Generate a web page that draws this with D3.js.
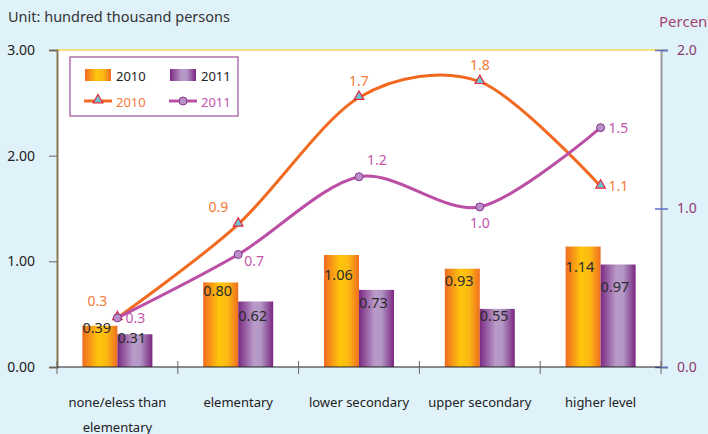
<!DOCTYPE html>
<html>
<head>
<meta charset="utf-8">
<script src="https://cdn.jsdelivr.net/npm/d3@7"></script>
<style>
  body { margin: 0; background: #dff1f9; }
  svg { display: block; font-family: "Noto Sans", sans-serif; }
</style>
</head>
<body>
<svg width="708" height="434"></svg>
<script>
const categories = ["none/eless than\nelementary", "elementary", "lower secondary", "upper secondary", "higher level"];
const bars2010 = [0.39, 0.80, 1.06, 0.93, 1.14];
const bars2011 = [0.31, 0.62, 0.73, 0.55, 0.97];
const pct2010 = [0.31, 0.90, 1.70, 1.80, 1.14];
const pct2011 = [0.31, 0.71, 1.20, 1.01, 1.51];
const leftTicks = [0, 1, 2, 3];
const rightTicks = [0, 1, 2];
// where each line label sits relative to its point
const pos2010 = ["aboveLeft", "aboveLeft", "above", "above", "right"];
const pos2011 = ["right", "belowRight", "aboveRight", "below", "right"];
// baseline drop of the bar value labels below the bar top
const drop2010 = [7, 14, 25, 17, 25];
const drop2011 = [9, 20, 18, 12, 27];

const margin = {top: 50, right: 47, bottom: 67, left: 57},
    width = 708 - margin.left - margin.right,
    height = 434 - margin.top - margin.bottom;

const svg = d3.select("svg");
const defs = svg.append("defs");

function hGrad(id, stops) {
    const g = defs.append("linearGradient").attr("id", id)
        .attr("x1", "0%").attr("x2", "100%").attr("y1", "0%").attr("y2", "0%");
    stops.forEach(s => g.append("stop").attr("offset", s[0]).attr("stop-color", s[1]));
}
hGrad("gOrange", [["0%", "#f06a22"], ["45%", "#ffc60b"], ["70%", "#fbb813"], ["100%", "#f06e20"]]);
hGrad("gPurple", [["0%", "#7b2a82"], ["45%", "#b99bc9"], ["65%", "#b196c4"], ["100%", "#7a2680"]]);

const chart = svg.append("g").attr("transform", `translate(${margin.left},${margin.top})`);

chart.append("rect").attr("width", width).attr("height", height).attr("fill", "#fff");
chart.append("line").attr("x1", 0).attr("x2", width).attr("y1", 0).attr("y2", 0)
    .attr("stroke", "#f6e17a").attr("stroke-width", 2);

const x = d3.scaleBand().domain(d3.range(categories.length)).range([0, width]);
const y = d3.scaleLinear().domain([0, 3]).range([height, 0]);
const y2 = d3.scaleLinear().domain([0, 2]).range([height, 0]);

// left axis
const leftAxis = chart.append("g")
    .call(d3.axisLeft(y).tickValues(leftTicks).tickFormat(d3.format(".2f")).tickSize(8));
leftAxis.select(".domain").attr("stroke", "#8a7a52").attr("stroke-width", 2);
leftAxis.selectAll(".tick line").attr("stroke", "#666");
leftAxis.selectAll(".tick text").attr("x", -22).attr("font-size", 14).attr("fill", "#222")
    .attr("font-family", "Noto Sans");

// right axis
const rightAxis = chart.append("g").attr("transform", `translate(${width},0)`)
    .call(d3.axisRight(y2).tickValues(rightTicks).tickFormat(d3.format(".1f")).tickSize(7));
rightAxis.select(".domain").attr("stroke", "#999").attr("stroke-width", 2);
rightAxis.selectAll(".tick line").attr("stroke", "#5b72c4").attr("x1", -6).attr("stroke-width", 1.5);
rightAxis.selectAll(".tick text").attr("x", 16).attr("font-size", 14).attr("fill", "#8e3a6e")
    .attr("font-family", "Noto Sans");

// bars
const bw = 35;
const groups = chart.selectAll(".cat").data(categories).enter().append("g")
    .attr("transform", (d, i) => `translate(${x(i) + x.bandwidth() / 2},0)`);

groups.append("rect").attr("x", -bw).attr("width", bw)
    .attr("y", (d, i) => y(bars2010[i])).attr("height", (d, i) => height - y(bars2010[i]))
    .attr("fill", "url(#gOrange)");
groups.append("rect").attr("x", 0).attr("width", bw)
    .attr("y", (d, i) => y(bars2011[i])).attr("height", (d, i) => height - y(bars2011[i]))
    .attr("fill", "url(#gPurple)");
groups.append("text").attr("x", -bw).attr("y", (d, i) => y(bars2010[i]) + drop2010[i])
    .attr("font-size", 14.5).attr("fill", "#2a2a2a").text((d, i) => bars2010[i].toFixed(2));
groups.append("text").attr("x", 0).attr("y", (d, i) => y(bars2011[i]) + drop2011[i])
    .attr("font-size", 14.5).attr("fill", "#2a2a2a").text((d, i) => bars2011[i].toFixed(2));

// bottom axis
const bottom = chart.append("g").attr("transform", `translate(0,${height})`);
bottom.append("line").attr("x1", 0).attr("x2", width).attr("stroke", "#222").attr("stroke-width", 1.2);
bottom.selectAll(".sep").data(d3.range(categories.length + 1)).enter().append("line")
    .attr("x1", i => i * x.step()).attr("x2", i => i * x.step())
    .attr("y1", -6).attr("y2", 7).attr("stroke", "#666");
bottom.selectAll(".lbl").data(categories).enter().append("text")
    .attr("text-anchor", "middle").attr("font-size", 13).attr("fill", "#222")
    .attr("transform", (d, i) => `translate(${x(i) + x.bandwidth() / 2},40)`)
    .each(function(d) {
        d.split("\n").forEach((t, k) => {
            d3.select(this).append("tspan").attr("x", 0).attr("dy", k ? 25 : 0).text(t);
        });
    });

// lines
const line2 = d3.line()
    .x((d, i) => x(i) + x.bandwidth() / 2)
    .y(d => y2(d))
    .curve(d3.curveCardinal.tension(0.1));

chart.append("path").datum(pct2010).attr("d", line2)
    .attr("fill", "none").attr("stroke", "#f26a21").attr("stroke-width", 3);
chart.append("path").datum(pct2011).attr("d", line2)
    .attr("fill", "none").attr("stroke", "#bb4fa6").attr("stroke-width", 3);

const tri = d3.symbol().type(d3.symbolTriangle).size(40);
chart.selectAll(".m10").data(pct2010).enter().append("path")
    .attr("d", tri)
    .attr("transform", (d, i) => `translate(${x(i) + x.bandwidth() / 2},${y2(d) - 1})`)
    .attr("fill", "#6cc3d3").attr("stroke", "#e8283c").attr("stroke-width", 1.2);
chart.selectAll(".m11").data(pct2011).enter().append("circle")
    .attr("cx", (d, i) => x(i) + x.bandwidth() / 2).attr("cy", d => y2(d)).attr("r", 4)
    .attr("fill", "#b98fc6").attr("stroke", "#84348a").attr("stroke-width", 1);

const offs = {
    above: [0, -12, "middle"], aboveLeft: [-10, -12, "end"], aboveRight: [8, -12, "start"],
    below: [0, 21, "middle"], belowRight: [6, 12, "start"], right: [8, 5, "start"]
};
function labels(data, pos, color) {
    chart.selectAll(null).data(data).enter().append("text")
        .attr("x", (d, i) => x(i) + x.bandwidth() / 2 + offs[pos[i]][0])
        .attr("y", (d, i) => y2(d) + offs[pos[i]][1])
        .attr("text-anchor", (d, i) => offs[pos[i]][2])
        .attr("font-size", 14).attr("fill", color)
        .text(d => d.toFixed(1));
}
labels(pct2010, pos2010, "#f47a38");
labels(pct2011, pos2011, "#c455aa");

// legend
const lg = svg.append("g").attr("transform", "translate(70,57)");
lg.append("rect").attr("width", 168).attr("height", 59).attr("fill", "#fff")
    .attr("stroke", "#9c4d9e").attr("stroke-width", 1.2);
lg.append("rect").attr("x", 15).attr("y", 12).attr("width", 26).attr("height", 12).attr("fill", "url(#gOrange)");
lg.append("text").attr("x", 46).attr("y", 24).attr("font-size", 13).attr("fill", "#222").text("2010");
lg.append("rect").attr("x", 100).attr("y", 12).attr("width", 26).attr("height", 12).attr("fill", "url(#gPurple)");
lg.append("text").attr("x", 131).attr("y", 24).attr("font-size", 13).attr("fill", "#222").text("2011");
lg.append("line").attr("x1", 14).attr("x2", 42).attr("y1", 44).attr("y2", 44).attr("stroke", "#f26a21").attr("stroke-width", 3);
lg.append("path").attr("d", tri).attr("transform", "translate(28,43)")
    .attr("fill", "#6cc3d3").attr("stroke", "#e8283c").attr("stroke-width", 1.2);
lg.append("text").attr("x", 46).attr("y", 50).attr("font-size", 13).attr("fill", "#f47a38").text("2010");
lg.append("line").attr("x1", 99).attr("x2", 127).attr("y1", 44).attr("y2", 44).attr("stroke", "#bb4fa6").attr("stroke-width", 3);
lg.append("circle").attr("cx", 113).attr("cy", 44).attr("r", 4)
    .attr("fill", "#b98fc6").attr("stroke", "#84348a");
lg.append("text").attr("x", 131).attr("y", 50).attr("font-size", 13).attr("fill", "#c455aa").text("2011");

// titles
svg.append("text").attr("x", 8).attr("y", 22).attr("font-size", 14.5).attr("fill", "#333")
    .text("Unit: hundred thousand persons");
svg.append("text").attr("x", 659).attr("y", 27).attr("font-size", 15).attr("fill", "#a3446f")
    .text("Percent");
</script>
</body>
</html>
